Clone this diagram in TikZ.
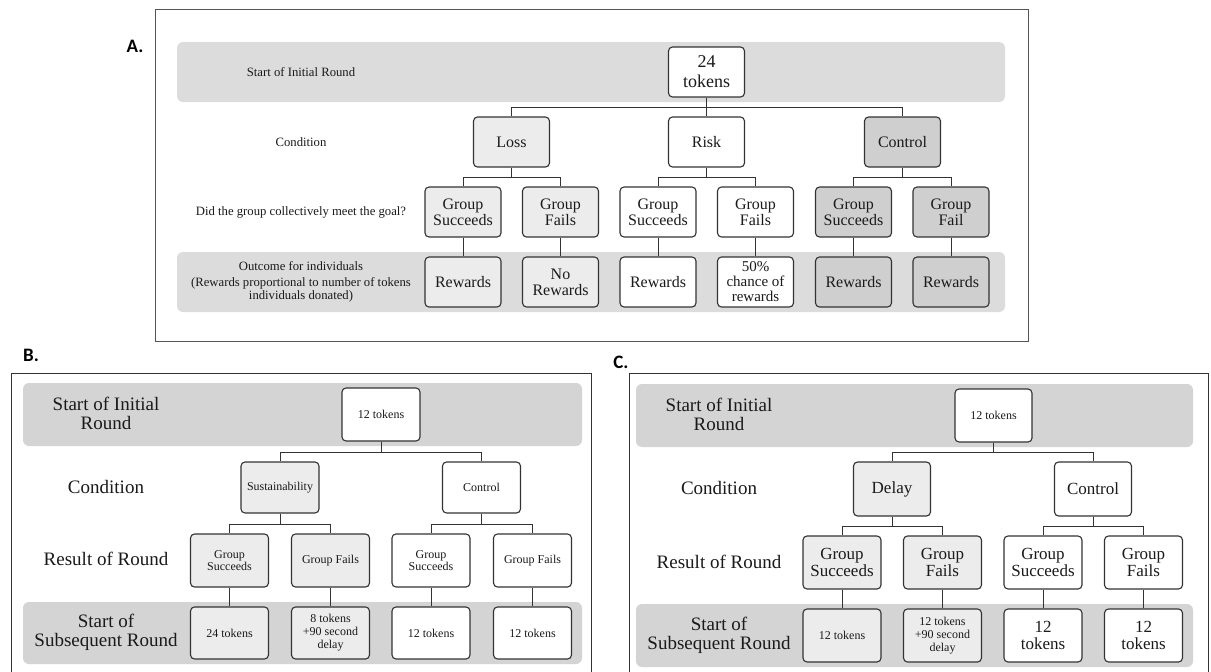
\documentclass[tikz,border=0pt]{standalone}
\usepackage{fontspec}
\setmainfont{Liberation Serif}
\newfontfamily\lblfont{Carlito}
\definecolor{bandA}{HTML}{DCDCDC}
\definecolor{bandB}{HTML}{D4D4D4}
\definecolor{lgray}{HTML}{ECECEC}
\definecolor{dgray}{HTML}{CFCFCF}
\definecolor{edge}{HTML}{333333}
\definecolor{frm}{HTML}{555555}
\definecolor{txt}{HTML}{1A1A1A}
\tikzset{
  bx/.style={draw=edge, line width=1.1pt, rounded corners=4pt, align=center, inner sep=0pt, text=txt},
  lg/.style={fill=lgray},
  dg/.style={fill=dgray},
  wh/.style={fill=white},
  szA/.style={minimum width=76pt, minimum height=50pt},
  szB/.style={minimum width=78pt, minimum height=53pt},
  fA/.style={font=\fontsize{16}{16}\selectfont},
  fAs/.style={font=\fontsize{15}{15}\selectfont},
  fS/.style={font=\fontsize{12}{12.5}\selectfont},
  fSt/.style={font=\fontsize{12}{13}\selectfont},
  fC/.style={font=\fontsize{17}{17.5}\selectfont},
  lblA/.style={align=center, text=txt, inner sep=0pt, font=\fontsize{12.7}{13.5}\selectfont},
  lblB/.style={align=center, text=txt, inner sep=0pt, font=\fontsize{19}{19}\selectfont},
  conn/.style={draw=edge, line width=0.9pt},
  panel/.style={font=\lblfont\bfseries\fontsize{19}{19}\selectfont, text=black, inner sep=0pt},
}
\begin{document}
\begin{tikzpicture}[x=1pt,y=-1pt]
\useasboundingbox (0,0) rectangle (1211,672);
\clip (0,0) rectangle (1211,672);
\fill[white] (0,0) rectangle (1211,672);

% ================= Panel A =================
\node[panel] (labA) at (135,46) {A.};
\draw[frm, line width=1pt] (155,9) rectangle (1028,341);
\fill[bandA, rounded corners=6pt] (177,42) rectangle (1005,102);
\fill[bandA, rounded corners=6pt] (177,252) rectangle (1005,312);

\node[lblA] (a1) at (301,72) {Start of Initial Round};
\node[lblA] (a2) at (301,142) {Condition};
\node[lblA] (a3) at (301,212) {Did the group collectively meet the goal?};
\node[lblA] (a4) at (301,282) {Outcome for individuals\\[2.5pt](Rewards proportional to number of tokens\\[-0.5pt]individuals donated)};

\node[bx, wh, szA, font=\fontsize{18}{20}\selectfont] (atok) at (706.5,72) {24\\tokens};
\node[bx, lg, szA, fA] (aloss) at (511.5,142) {Loss};
\node[bx, wh, szA, fA] (arisk) at (706.5,142) {Risk};
\node[bx, dg, szA, fA] (actl) at (902.5,142) {Control};

\node[bx, lg, szA, fA] (ag1) at (463,212) {Group\\Succeeds};
\node[bx, lg, szA, fA] (ag2) at (560.5,212) {Group\\Fails};
\node[bx, wh, szA, fA] (ag3) at (658,212) {Group\\Succeeds};
\node[bx, wh, szA, fA] (ag4) at (755.5,212) {Group\\Fails};
\node[bx, dg, szA, fA] (ag5) at (853.5,212) {Group\\Succeeds};
\node[bx, dg, szA, fA] (ag6) at (951,212) {Group\\Fail};

\node[bx, lg, szA, fA] (ar1) at (463,282) {Rewards};
\node[bx, lg, szA, fA] (ar2) at (560.5,282) {No\\Rewards};
\node[bx, wh, szA, fA] (ar3) at (658,282) {Rewards};
\node[bx, wh, szA, fAs] (ar4) at (755.5,282) {50\%\\chance of\\rewards};
\node[bx, dg, szA, fA] (ar5) at (853.5,282) {Rewards};
\node[bx, dg, szA, fA] (ar6) at (951,282) {Rewards};

\draw[conn] (atok.south) -- (arisk.north);
\draw[conn] (atok.south) -- ++(0,10) -| (aloss.north);
\draw[conn] (atok.south) -- ++(0,10) -| (actl.north);
\draw[conn] (aloss.south) -- ++(0,10) -| (ag1.north);
\draw[conn] (aloss.south) -- ++(0,10) -| (ag2.north);
\draw[conn] (arisk.south) -- ++(0,10) -| (ag3.north);
\draw[conn] (arisk.south) -- ++(0,10) -| (ag4.north);
\draw[conn] (actl.south) -- ++(0,10) -| (ag5.north);
\draw[conn] (actl.south) -- ++(0,10) -| (ag6.north);
\draw[conn] (ag1.south) -- (ar1.north);
\draw[conn] (ag2.south) -- (ar2.north);
\draw[conn] (ag3.south) -- (ar3.north);
\draw[conn] (ag4.south) -- (ar4.north);
\draw[conn] (ag5.south) -- (ar5.north);
\draw[conn] (ag6.south) -- (ar6.north);

% ================= Panel B =================
\node[panel] (labB) at (31,355) {B.};
\draw[edge, line width=1pt] (11,373) rectangle (591,690);
\fill[bandB, rounded corners=6pt] (23,383) rectangle (582,446);
\fill[bandB, rounded corners=6pt] (23,602) rectangle (582,664);

\node[lblB] (b1) at (106,413) {Start of Initial\\Round};
\node[lblB] (b2) at (106,487) {Condition};
\node[lblB] (b3) at (106,559) {Result of Round};
\node[lblB] (b4) at (106,632) {Start of\\Subsequent Round};

\node[bx, wh, szB, fS] (btok) at (381,414.5) {12 tokens};
\node[bx, lg, minimum width=78pt, minimum height=51pt, fS] (bsus) at (280,487.5) {Sustainability};
\node[bx, wh, minimum width=78pt, minimum height=51pt, fS] (bctl) at (481.5,487.5) {Control};

\node[bx, lg, szB, fS] (bg1) at (229.5,560.5) {Group\\Succeeds};
\node[bx, lg, szB, fS] (bg2) at (330.5,560.5) {Group Fails};
\node[bx, wh, szB, fS] (bg3) at (431,560.5) {Group\\Succeeds};
\node[bx, wh, szB, fS] (bg4) at (532.5,560.5) {Group Fails};

\node[bx, lg, minimum width=78pt, minimum height=52pt, fS] (br1) at (229.5,633) {24 tokens};
\node[bx, lg, minimum width=78pt, minimum height=52pt, fSt] (br2) at (330.5,633) {8 tokens\\+90 second\\delay};
\node[bx, wh, minimum width=78pt, minimum height=52pt, fS] (br3) at (431,633) {12 tokens};
\node[bx, wh, minimum width=78pt, minimum height=52pt, fS] (br4) at (532.5,633) {12 tokens};

\draw[conn] (btok.south) -- ++(0,10.5) -| (bsus.north);
\draw[conn] (btok.south) -- ++(0,10.5) -| (bctl.north);
\draw[conn] (bsus.south) -- ++(0,10.5) -| (bg1.north);
\draw[conn] (bsus.south) -- ++(0,10.5) -| (bg2.north);
\draw[conn] (bctl.south) -- ++(0,10.5) -| (bg3.north);
\draw[conn] (bctl.south) -- ++(0,10.5) -| (bg4.north);
\draw[conn] (bg1.south) -- (br1.north);
\draw[conn] (bg2.south) -- (br2.north);
\draw[conn] (bg3.south) -- (br3.north);
\draw[conn] (bg4.south) -- (br4.north);

% ================= Panel C =================
\node[panel] (labC) at (621,362) {C.};
\draw[edge, line width=1pt] (629,373) rectangle (1208,690);
\fill[bandB, rounded corners=6pt] (636,384) rectangle (1193,447);
\fill[bandB, rounded corners=6pt] (636,604) rectangle (1193,667);

\node[lblB] (c1) at (719,414.5) {Start of Initial\\Round};
\node[lblB] (c2) at (719,488) {Condition};
\node[lblB] (c3) at (719,562) {Result of Round};
\node[lblB] (c4) at (719,635) {Start of\\Subsequent Round};

\node[bx, wh, minimum width=77pt, minimum height=53pt, fS] (ctok) at (993.5,415.5) {12 tokens};
\node[bx, lg, minimum width=77pt, minimum height=54pt, fC] (cdel) at (892,489) {Delay};
\node[bx, wh, minimum width=77pt, minimum height=54pt, fC] (cctl) at (1093,489) {Control};

\node[bx, lg, szB, fC] (cg1) at (842,562.5) {Group\\Succeeds};
\node[bx, lg, szB, fC] (cg2) at (942.5,562.5) {Group\\Fails};
\node[bx, wh, szB, fC] (cg3) at (1043,562.5) {Group\\Succeeds};
\node[bx, wh, szB, fC] (cg4) at (1143.5,562.5) {Group\\Fails};

\node[bx, lg, szB, fS] (cr1) at (842,635.5) {12 tokens};
\node[bx, lg, szB, fSt] (cr2) at (942.5,635.5) {12 tokens\\+90 second\\delay};
\node[bx, wh, szB, fC] (cr3) at (1043,635.5) {12\\tokens};
\node[bx, wh, szB, fC] (cr4) at (1143.5,635.5) {12\\tokens};

\draw[conn] (ctok.south) -- ++(0,10) -| (cdel.north);
\draw[conn] (ctok.south) -- ++(0,10) -| (cctl.north);
\draw[conn] (cdel.south) -- ++(0,10) -| (cg1.north);
\draw[conn] (cdel.south) -- ++(0,10) -| (cg2.north);
\draw[conn] (cctl.south) -- ++(0,10) -| (cg3.north);
\draw[conn] (cctl.south) -- ++(0,10) -| (cg4.north);
\draw[conn] (cg1.south) -- (cr1.north);
\draw[conn] (cg2.south) -- (cr2.north);
\draw[conn] (cg3.south) -- (cr3.north);
\draw[conn] (cg4.south) -- (cr4.north);
\end{tikzpicture}
\end{document}
